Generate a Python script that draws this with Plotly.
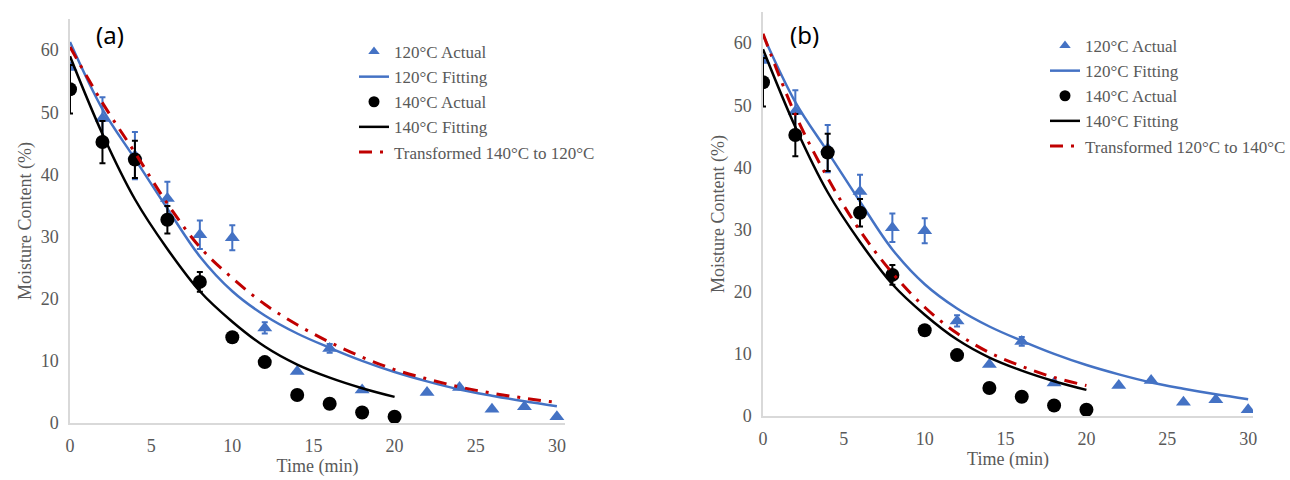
import plotly.graph_objects as go

# ---- data ----
t_120 = [0, 2, 4, 6, 8, 10, 12, 14, 16, 18, 22, 24, 26, 28, 30]
mc_120 = [57.2, 49.0, 43.0, 36.1, 30.3, 29.8, 15.3, 8.3, 12.0, 5.3, 4.9, 5.7, 2.2, 2.6, 1.0]
err_120 = [0.0, 3.4, 3.8, 2.7, 2.3, 2.0, 0.9, 0.0, 0.7, 0.0, 0.0, 0.0, 0.0, 0.0, 0.0]

t_140 = [0, 2, 4, 6, 8, 10, 12, 14, 16, 18, 20]
mc_140 = [53.7, 45.2, 42.4, 32.7, 22.7, 13.8, 9.8, 4.5, 3.1, 1.7, 1.0]
err_140 = [3.9, 3.4, 3.0, 2.2, 1.6, 0.6, 0.0, 0.0, 0.0, 0.0, 0.0]

t_fit120 = [0, 2, 4, 6, 8, 10, 12, 14, 16, 18, 20, 22, 24, 26, 28, 30]
fit_120 = [61.3, 50.5, 42.5, 34.5, 26.8, 21.2, 17.3, 14.4, 12.1, 10.0, 8.2, 6.7, 5.4, 4.4, 3.5, 2.7]

t_fit140 = [0, 2, 4, 6, 8, 10, 12, 14, 16, 18, 20]
fit_140 = [59.0, 46.5, 36.0, 28.0, 21.2, 16.3, 12.3, 9.4, 7.3, 5.6, 4.2]

t_tr_a = [0, 2, 4, 6, 8, 10, 12, 14, 16, 18, 20, 22, 24, 26, 28, 30]
tr_a = [60.5, 51.5, 43.5, 35.3, 28.3, 23.3, 19.1, 15.8, 13.0, 10.6, 8.6, 7.1, 5.8, 4.8, 4.0, 3.3]

t_tr_b = [0, 2, 4, 6, 8, 10, 12, 14, 16, 18, 20]
tr_b = [61.5, 48.5, 38.3, 29.8, 23.0, 17.5, 13.3, 10.2, 8.0, 6.2, 4.9]

panel_labels = ["(a)", "(b)"]
tr_names = ["Transformed 140\u00b0C to 120\u00b0C", "Transformed 120\u00b0C to 140\u00b0C"]
x_ticks = [0, 5, 10, 15, 20, 25, 30]
y_ticks = [0, 10, 20, 30, 40, 50, 60]

BLUE = "#4472C4"
RED = "#C00000"
GRAY_TXT = "#595959"
SERIF = "Liberation Serif, Times New Roman, serif"

fig = go.Figure()

for i, (xa, ya, lg) in enumerate([("x", "y", "legend"), ("x2", "y2", "legend2")]):
    tr_t = t_tr_a if i == 0 else t_tr_b
    tr_v = tr_a if i == 0 else tr_b
    # 120 actual (data) + small legend key
    fig.add_trace(go.Scatter(
        x=t_120, y=mc_120, mode="markers", name="120\u00b0C Actual", showlegend=False,
        marker=dict(symbol="triangle-up", size=13, color=BLUE),
        error_y=dict(type="data", array=err_120, color=BLUE, thickness=2, width=3),
        xaxis=xa, yaxis=ya))
    fig.add_trace(go.Scatter(
        x=[None], y=[None], mode="markers", name="120\u00b0C Actual",
        marker=dict(symbol="triangle-up", size=10, color=BLUE),
        xaxis=xa, yaxis=ya, legend=lg))
    fig.add_trace(go.Scatter(
        x=t_fit120, y=fit_120, mode="lines", name="120\u00b0C Fitting",
        line=dict(color=BLUE, width=2.5, shape="spline"),
        xaxis=xa, yaxis=ya, legend=lg))
    fig.add_trace(go.Scatter(
        x=t_140, y=mc_140, mode="markers", name="140\u00b0C Actual", showlegend=False,
        marker=dict(symbol="circle", size=14, color="black"),
        error_y=dict(type="data", array=err_140, color="black", thickness=2, width=3),
        xaxis=xa, yaxis=ya))
    fig.add_trace(go.Scatter(
        x=[None], y=[None], mode="markers", name="140\u00b0C Actual",
        marker=dict(symbol="circle", size=11, color="black"),
        xaxis=xa, yaxis=ya, legend=lg))
    fig.add_trace(go.Scatter(
        x=t_fit140, y=fit_140, mode="lines", name="140\u00b0C Fitting",
        line=dict(color="black", width=2.5, shape="spline"),
        xaxis=xa, yaxis=ya, legend=lg))
    fig.add_trace(go.Scatter(
        x=tr_t, y=tr_v, mode="lines", name=tr_names[i],
        line=dict(color=RED, width=3, shape="spline", dash="13px,8px,3px,8px"),
        xaxis=xa, yaxis=ya, legend=lg))

axis_common = dict(
    showgrid=False, zeroline=False, showline=True, linecolor="#D9D9D9", linewidth=1.5,
    ticks="outside", tickcolor="rgba(0,0,0,0)", ticklen=6, automargin=False,
    tickfont=dict(family=SERIF, size=18, color=GRAY_TXT),
)

W, H = 1290, 480
def px_x(p):
    return p / W
def px_y(p):
    return 1 - p / H

title_font = dict(family=SERIF, size=18, color=GRAY_TXT)

fig.update_layout(
    width=W, height=H,
    margin=dict(l=0, r=0, t=0, b=0, autoexpand=False),
    paper_bgcolor="white", plot_bgcolor="white",
    xaxis=dict(domain=[px_x(70), px_x(565)], range=[0, 30.5], tickvals=x_ticks, anchor="y",
               title=dict(text="Time (min)", font=title_font, standoff=2), **axis_common),
    yaxis=dict(domain=[px_y(423), px_y(19)], range=[0, 65], tickvals=y_ticks, anchor="x",
               title=dict(text="Moisture Content (%)", font=title_font, standoff=4), **axis_common),
    xaxis2=dict(domain=[px_x(763), px_x(1253)], range=[0, 30.3], tickvals=x_ticks, anchor="y2",
                title=dict(text="Time (min)", font=title_font, standoff=2), **axis_common),
    yaxis2=dict(domain=[px_y(416), px_y(12)], range=[0, 65], tickvals=y_ticks, anchor="x2",
                title=dict(text="Moisture Content (%)", font=title_font, standoff=4), **axis_common),
    legend=dict(x=px_x(354), y=px_y(34), xanchor="left", yanchor="top", bgcolor="rgba(0,0,0,0)",
                itemsizing="trace", font=dict(family=SERIF, size=17, color=GRAY_TXT)),
    legend2=dict(x=px_x(1045), y=px_y(28), xanchor="left", yanchor="top", bgcolor="rgba(0,0,0,0)",
                 itemsizing="trace", font=dict(family=SERIF, size=17, color=GRAY_TXT)),
    showlegend=True,
    annotations=[
        dict(text=panel_labels[0], x=px_x(110), y=px_y(35), xref="paper", yref="paper",
             xanchor="center", yanchor="middle",
             showarrow=False, font=dict(family="Noto Sans, Open Sans, sans-serif", size=24, color="black")),
        dict(text=panel_labels[1], x=px_x(804), y=px_y(35), xref="paper", yref="paper",
             xanchor="center", yanchor="middle",
             showarrow=False, font=dict(family="Noto Sans, Open Sans, sans-serif", size=24, color="black")),
    ],
)

fig.write_html("out.html", config={"displayModeBar": False},
               post_script="document.body.style.margin='0';document.body.style.padding='0';")
